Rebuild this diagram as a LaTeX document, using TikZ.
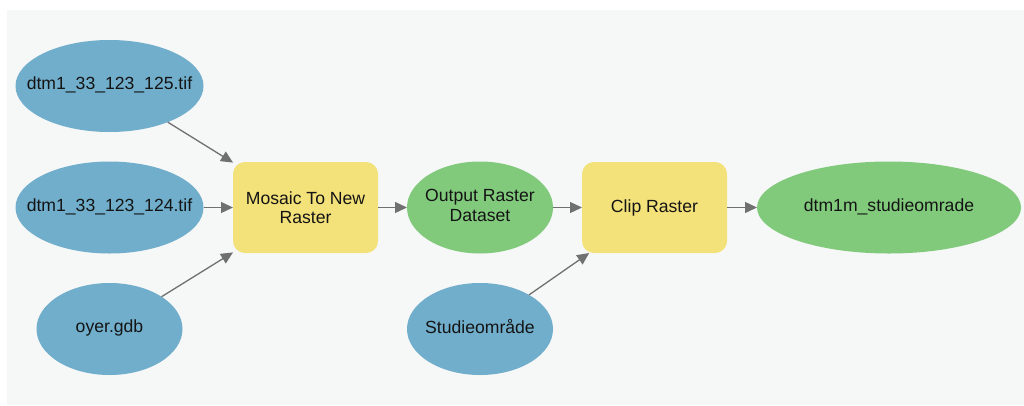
\documentclass[tikz,border=0pt]{standalone}
\usepackage{fontspec}
\setmainfont{Liberation Sans}
\usetikzlibrary{shapes.geometric,arrows.meta}

\definecolor{panelbg}{HTML}{F6F7F7}
\definecolor{inputblue}{HTML}{70AECC}
\definecolor{outputgreen}{HTML}{81CA7C}
\definecolor{toolyellow}{HTML}{F3E17A}
\definecolor{linkgray}{HTML}{707070}
\definecolor{labelink}{HTML}{141414}

% zero-width centred label so the ellipse keeps its fixed size
\newcommand{\zlabel}[1]{\makebox[0pt][c]{\begin{tabular}{@{}c@{}}#1\end{tabular}}}

\tikzset{
  base/.style={inner sep=0pt, outer sep=0pt, text=labelink,
    font=\fontsize{17.6}{19.5}\selectfont},
  inputnode/.style={base, ellipse, fill=inputblue,
    minimum width=188pt, minimum height=92pt},
  smallinput/.style={base, ellipse, fill=inputblue,
    minimum width=146pt, minimum height=92pt},
  outputnode/.style={base, ellipse, fill=outputgreen,
    minimum width=146pt, minimum height=92pt},
  wideoutput/.style={base, ellipse, fill=outputgreen,
    minimum width=264pt, minimum height=92pt},
  toolnode/.style={base, rectangle, rounded corners=12pt, fill=toolyellow,
    minimum width=145pt, minimum height=91pt, align=center},
  link/.style={draw=linkgray, line width=1.3pt,
    -{Triangle[length=12pt,width=11pt]}},
}

\begin{document}
\begin{tikzpicture}[x=1pt,y=-1pt]
  \useasboundingbox (0,0) rectangle (1024,405);
  \fill[white] (0,0) rectangle (1024,405);
  \fill[panelbg] (7,10) rectangle (1024,405);

  % inputs
  \node[inputnode]  (tif125) at (109.5,86)  {\zlabel{dtm1\_33\_123\_125.tif}};
  \node[inputnode]  (tif124) at (109.5,207.5) {\zlabel{dtm1\_33\_123\_124.tif}};
  \node[smallinput] (gdb)    at (109.5,329) {\zlabel{oyer.gdb}};
  \node[smallinput] (area)   at (480,329)   {\zlabel{Studieområde}};

  % tools
  \node[toolnode] (mosaic) at (305.5,207.5) {Mosaic To New\\Raster};
  \node[toolnode] (clip)   at (654.5,207.5) {Clip Raster};

  % outputs
  \node[outputnode] (dataset) at (480,207.5) {\zlabel{Output Raster\\Dataset}};
  \node[wideoutput] (result)  at (889,207.5) {\zlabel{dtm1m\_studieomrade}};

  % connectors
  \draw[link] (tif125) -- (mosaic);
  \draw[link] (tif124) -- (mosaic);
  \draw[link] (gdb) -- (mosaic);
  \draw[link] (mosaic) -- (dataset);
  \draw[link] (dataset) -- (clip);
  \draw[link] (area) -- (clip);
  \draw[link] (clip) -- (result);
\end{tikzpicture}
\end{document}
